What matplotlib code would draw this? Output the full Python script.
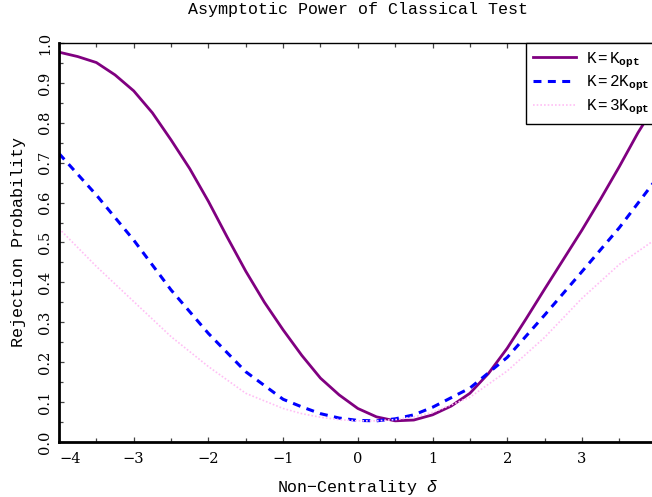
import numpy as np
import matplotlib
matplotlib.use('Agg')
import matplotlib.pyplot as plt
from matplotlib.ticker import MultipleLocator, FormatStrFormatter

# values
delta_k1 = [-4.0, -3.75, -3.5, -3.25, -3.0, -2.75, -2.5, -2.25, -2.0, -1.75, -1.5, -1.25,
            -1.0, -0.75, -0.5, -0.25, 0.0, 0.25, 0.5, 0.75, 1.0, 1.25, 1.5, 1.75,
            2.0, 2.25, 2.5, 2.75, 3.0, 3.25, 3.5, 3.75, 4.0]
power_k1 = [0.977, 0.966, 0.951, 0.920, 0.880, 0.825, 0.757, 0.685, 0.603, 0.514, 0.428, 0.350,
            0.281, 0.217, 0.160, 0.118, 0.084, 0.063, 0.053, 0.055, 0.068, 0.090, 0.122, 0.172,
            0.235, 0.308, 0.383, 0.457, 0.531, 0.609, 0.690, 0.775, 0.850]

delta_k2 = [-4.0, -3.5, -3.0, -2.5, -2.0, -1.5, -1.0, -0.75, -0.5, -0.25, 0.0, 0.25, 0.5,
            0.75, 1.0, 1.5, 2.0, 2.5, 3.0, 3.5, 4.0]
power_k2 = [0.723, 0.619, 0.506, 0.381, 0.272, 0.176, 0.107, 0.088, 0.071, 0.060, 0.054, 0.053,
            0.058, 0.068, 0.087, 0.135, 0.212, 0.318, 0.427, 0.537, 0.660]

delta_k3 = [-4.0, -3.5, -3.0, -2.5, -2.0, -1.5, -1.0, -0.75, -0.5, -0.25, 0.0, 0.25, 0.5,
            0.75, 1.0, 1.5, 2.0, 2.5, 3.0, 3.5, 4.0]
power_k3 = [0.535, 0.440, 0.352, 0.264, 0.189, 0.122, 0.084, 0.071, 0.062, 0.056, 0.053, 0.053,
            0.056, 0.063, 0.074, 0.112, 0.178, 0.262, 0.360, 0.445, 0.510]

labels = [r'$\mathrm{K=K}_{\mathbf{opt}}$', r'$\mathrm{K=2K}_{\mathbf{opt}}$',
          r'$\mathrm{K=3K}_{\mathbf{opt}}$']
x_ticks = [-4, -3, -2, -1, 0, 1, 2, 3]

plt.rcParams['font.family'] = 'Liberation Mono'
plt.rcParams['mathtext.fontset'] = 'custom'
plt.rcParams['mathtext.rm'] = 'Liberation Mono'
plt.rcParams['mathtext.it'] = 'Liberation Mono:italic'
plt.rcParams['mathtext.bf'] = 'Liberation Mono:bold'

fig = plt.figure(figsize=(6.52, 4.97), dpi=100)
ax = fig.add_axes([0.0905, 0.1107, 0.9166, 0.8028])

ax.plot(delta_k1, power_k1, color='#800080', lw=2.0, label=labels[0])
ax.plot(delta_k2, power_k2, color='#0000ff', lw=2.2, dashes=(2.6, 2.1), label=labels[1])
ax.plot(delta_k3, power_k3, color='#ffbff5', lw=1.2, dashes=(1, 1.2), label=labels[2])

ax.set_xlim(-4.0, 4.0)
ax.set_ylim(0.0, 1.0)
ax.set_xticks(x_ticks)
ax.set_xticklabels(['\u2212%d' % -t if t < 0 else '%d' % t for t in x_ticks],
                   family='DejaVu Serif', fontsize=10.5)
ax.xaxis.set_minor_locator(MultipleLocator(0.5))
ax.yaxis.set_major_locator(MultipleLocator(0.1))
ax.yaxis.set_minor_locator(MultipleLocator(0.05))
ax.yaxis.set_major_formatter(FormatStrFormatter('%.1f'))
ax.tick_params(which='both', direction='in', top=True, right=True, color='#444444')
ax.tick_params(which='major', length=3.8, width=0.9)
ax.tick_params(which='minor', length=3.2, width=0.9)
ax.tick_params(axis='x', pad=7)
ax.tick_params(axis='y', labelrotation=90, pad=5)
for lab in ax.get_yticklabels():
    lab.set_fontfamily('DejaVu Serif')
    lab.set_fontsize(10.5)
    lab.set_va('center')
ax.xaxis.get_major_ticks()[0].label1.set_horizontalalignment('left')

ax.spines['left'].set_linewidth(2)
ax.spines['bottom'].set_linewidth(2)
ax.spines['top'].set_linewidth(1)
ax.spines['right'].set_linewidth(1)

ax.set_xlabel('Non\u2212Centrality $\\mathit{\\delta}$', fontsize=12, labelpad=9)
ax.set_ylabel('Rejection Probability', fontsize=12, labelpad=9)
ax.set_title('Asymptotic Power of Classical Test', fontsize=12, pad=21)

leg = ax.legend(loc='upper right', borderaxespad=0, fancybox=False, framealpha=1,
                edgecolor='black', fontsize=11.5, handlelength=2.7, handletextpad=0.6,
                labelspacing=0.25, borderpad=0.45)
leg.get_frame().set_linewidth(1)

fig.savefig('out.png', dpi=100)
